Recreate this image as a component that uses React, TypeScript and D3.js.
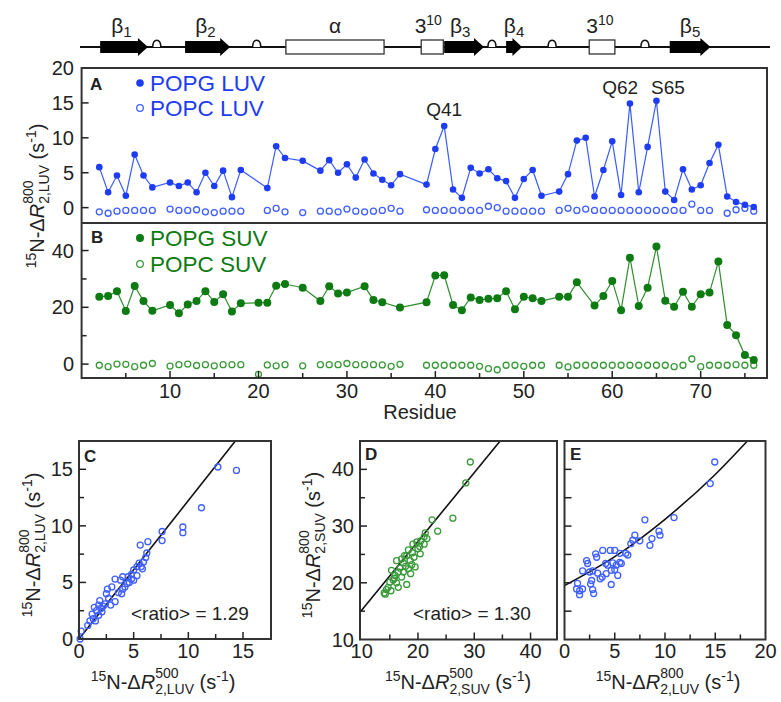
import React from "react";
import * as d3 from "d3";

const FONT = "'Liberation Sans', Arial, Helvetica, sans-serif";
const BLUE = "#1d3cf4";
const BLUE_LINE = "#3a5cff";
const BLUE_OPEN = "#3f5fff";
const GREEN = "#0d7a12";
const GREEN_LINE = "#2f8f2f";
const GREEN_OPEN = "#3a9a3a";
const INK = "#222";

// panel A : residue, 15N-dR2 (LUV, 800 MHz)
const popgLuv: [number, number][] = [
  [2, 5.8], [3, 2.2], [4, 4.6], [5, 1.7], [6, 7.6], [7, 4.6], [8, 2.9], [10, 3.6], [11, 3.1],
  [12, 3.6], [13, 2.2], [14, 5.0], [15, 3.1], [16, 5.3], [17, 1.5], [18, 5.4], [21, 2.8], [22, 8.8],
  [23, 7.1], [25, 6.7], [27, 5.3], [28, 6.8], [29, 5.0], [30, 6.2], [31, 4.3], [32, 6.9], [33, 4.9],
  [34, 4.0], [35, 3.2], [36, 4.8], [39, 3.3], [40, 8.4], [41, 11.7], [42, 2.6], [43, 1.4], [44, 5.7],
  [45, 4.9], [46, 5.5], [47, 4.2], [48, 3.8], [49, 1.4], [50, 4.1], [51, 5.4], [52, 1.7], [54, 2.3],
  [55, 4.8], [56, 9.6], [57, 10.0], [58, 1.6], [59, 5.4], [60, 9.5], [61, 1.8], [62, 14.9], [63, 2.2],
  [64, 8.7], [65, 15.3], [66, 2.3], [67, 1.1], [68, 5.5], [69, 2.6], [70, 3.2], [71, 6.4], [72, 9.0],
  [73, 1.6], [74, 0.8], [75, 0.4], [76, 0.1],
];
const popcLuv: [number, number][] = [
  [2, -0.6], [3, -0.8], [4, -0.5], [5, -0.4], [6, -0.4], [7, -0.4], [8, -0.4], [10, -0.2], [11, -0.4],
  [12, -0.4], [13, -0.3], [14, -0.6], [15, -0.7], [16, -0.5], [17, -0.5], [18, -0.5], [21, -0.4],
  [22, -0.1], [23, -0.6], [25, -0.7], [27, -0.5], [28, -0.5], [29, -0.6], [30, -0.2], [31, -0.5],
  [32, -0.6], [33, -0.5], [34, -0.4], [35, -0.1], [36, -0.5], [39, -0.3], [40, -0.4], [41, -0.4],
  [42, -0.4], [43, -0.4], [44, -0.4], [45, -0.4], [46, 0.2], [47, 0.0], [48, -0.5], [49, -0.5],
  [50, -0.5], [51, -0.5], [52, -0.5], [54, -0.4], [55, -0.1], [56, -0.4], [57, -0.2], [58, -0.4],
  [59, -0.4], [60, -0.4], [61, -0.4], [62, -0.4], [63, -0.4], [64, -0.4], [65, -0.4], [66, -0.4],
  [67, -0.4], [68, -0.4], [69, 0.5], [70, -0.4], [71, -0.4], [73, -0.8], [74, -0.3], [75, -0.1],
  [76, -0.5],
];

// panel B : residue, 15N-dR2 (SUV, 800 MHz)
const popgSuv: [number, number][] = [
  [2, 23.7], [3, 24.0], [4, 25.7], [5, 18.7], [6, 27.5], [7, 22.2], [8, 18.8], [10, 20.8], [11, 17.9],
  [12, 21.0], [13, 22.2], [14, 25.7], [15, 21.9], [16, 24.6], [17, 18.5], [18, 21.4], [20, 21.6],
  [21, 21.6], [22, 27.6], [23, 28.2], [25, 26.9], [27, 22.2], [28, 27.4], [29, 24.9], [30, 25.2],
  [32, 27.4], [33, 22.6], [34, 21.8], [36, 19.9], [39, 21.8], [40, 31.2], [41, 31.3], [42, 20.8],
  [43, 19.0], [44, 23.5], [45, 22.6], [46, 23.0], [47, 23.2], [48, 25.7], [49, 19.3], [50, 23.7],
  [51, 23.2], [52, 22.2], [54, 23.7], [55, 23.7], [56, 28.8], [58, 20.6], [59, 24.0], [60, 29.3],
  [61, 19.0], [62, 37.5], [63, 20.5], [64, 26.9], [65, 41.4], [66, 22.3], [67, 20.2], [68, 25.5],
  [69, 20.2], [70, 24.6], [71, 25.2], [72, 36.1], [73, 13.8], [74, 10.2], [75, 3.2], [76, 1.4],
];
const popcSuv: [number, number][] = [
  [2, -0.4], [3, -0.9], [4, 0.0], [5, -0.1], [6, -0.9], [7, -0.4], [8, 0.2], [10, -0.7], [11, -0.2],
  [12, 0.0], [13, -0.5], [14, -0.2], [15, -0.6], [16, -0.2], [17, -0.2], [18, -0.2], [20, -3.6],
  [21, -0.3], [22, -0.6], [23, -0.2], [25, -0.6], [27, -0.2], [28, -0.2], [29, -0.2], [30, 0.2],
  [31, -0.2], [32, -0.2], [33, -0.2], [34, -0.3], [35, -0.8], [36, -0.1], [39, -0.4], [40, -0.4],
  [41, -0.4], [42, -0.4], [43, -0.4], [44, -0.4], [45, -0.8], [46, -1.6], [47, -2.0], [48, -0.4],
  [49, -0.4], [50, -0.8], [51, -0.4], [52, -0.4], [54, -0.4], [55, -1.0], [56, -0.4], [57, -0.4],
  [58, -0.4], [59, -0.4], [60, -0.4], [61, -0.4], [62, -0.4], [63, -0.4], [64, -0.4], [65, -0.4],
  [66, -0.4], [67, -0.9], [68, -0.4], [69, 1.8], [70, -0.9], [71, -0.4], [72, -0.4], [73, -0.4],
  [74, -0.2], [75, -0.4], [76, -0.4],
];

// panel C : dR2 LUV 500 vs 800
const luv500v800: [number, number][] = [
  [12.7, 15.2], [14.4, 14.9], [11.2, 11.6], [9.5, 9.9], [9.5, 9.4], [7.6, 9.5], [7.6, 8.7], [6.3, 8.6],
  [5.6, 8.3], [6.2, 7.6], [6.1, 7.2], [5.9, 6.8], [5.5, 6.7], [5.7, 6.4], [5.3, 6.4], [5.0, 6.1],
  [4.8, 5.7], [4.5, 5.5], [5.3, 5.6], [4.0, 5.5], [3.3, 5.3], [3.8, 5.2], [4.4, 4.9], [5.0, 5.2],
  [4.0, 4.4], [3.9, 4.0], [3.0, 4.6], [3.3, 3.3], [2.6, 4.4], [2.5, 4.0], [2.7, 3.6], [1.9, 3.4],
  [2.4, 3.1], [1.8, 3.0], [1.4, 2.8], [1.6, 2.5], [2.1, 2.4], [1.2, 2.2], [1.8, 2.1], [1.0, 1.6],
  [1.5, 1.6], [0.8, 1.2], [0.2, 0.7], [0.1, 0.0], [4.6, 5.0], [4.2, 4.6], [2.9, 3.0], [2.2, 2.9],
  [4.8, 5.3], [5.8, 6.2], [3.6, 4.1], [1.3, 1.8], [2.0, 2.7],
];
// panel D : dR2 SUV 500 vs 800
const suv500v800: [number, number][] = [
  [29.3, 41.3], [28.5, 37.6], [26.2, 31.4], [22.5, 31.1], [23.5, 29.1], [21.3, 28.8], [21.1, 28.1],
  [20.5, 27.4], [19.8, 27.2], [19.1, 26.8], [20.3, 26.4], [21.1, 26.8], [20.4, 25.1], [18.3, 25.8],
  [18.0, 24.8], [19.3, 24.5], [18.6, 23.9], [17.1, 24.2], [16.2, 23.9], [17.4, 23.5], [18.9, 23.2],
  [19.5, 22.8], [18.3, 22.5], [15.3, 22.2], [16.5, 21.9], [17.4, 21.9], [15.9, 21.3], [17.1, 21.0],
  [18.0, 19.7], [15.6, 20.5], [15.0, 20.1], [16.2, 20.0], [14.7, 19.2], [14.4, 18.8], [14.0, 18.2],
  [15.2, 18.6], [16.5, 19.2], [17.8, 22.9], [19.0, 25.3], [20.0, 26.0], [16.8, 22.6], [18.7, 21.6],
  [14.2, 18.0], [17.6, 24.8], [21.6, 27.8], [15.8, 20.8],
];
// panel E : dR2 LUV 800 vs SUV 800
const luvVsSuv: [number, number][] = [
  [14.95, 41.3], [14.5, 37.5], [10.9, 31.5], [8.0, 31.1], [9.4, 29.1], [9.5, 28.4], [8.7, 27.8],
  [8.5, 26.6], [7.0, 28.4], [6.8, 27.5], [7.5, 27.4], [6.6, 26.9], [6.3, 24.9], [6.1, 25.2], [5.5, 25.2],
  [5.0, 25.7], [4.55, 25.7], [3.8, 25.7], [3.1, 25.1], [3.2, 24.5], [5.5, 23.6], [5.65, 23.4],
  [5.15, 23.1], [4.8, 23.5], [4.3, 23.1], [4.1, 23.4], [2.2, 23.9], [2.3, 23.4], [1.8, 22.1],
  [2.5, 21.9], [2.8, 22.1], [3.3, 21.7], [4.15, 21.6], [4.65, 22.2], [5.0, 22.3], [5.3, 21.3],
  [3.55, 20.7], [2.7, 20.4], [2.6, 19.8], [1.3, 19.9], [1.8, 18.9], [1.5, 18.6], [1.2, 18.9],
  [1.5, 17.9], [2.8, 18.8], [2.9, 18.1], [4.65, 19.7], [3.75, 21.0],
];
const fitC: [number, number][] = [[0, 0], [14.3, 17.5]];
const fitD: [number, number][] = [[9.7, 14.8], [34.6, 45]];
const fitE: [number, number][] = [[0, 19.5], [5, 24.6], [10, 31.2], [15, 39.1], [18.2, 45]];

// secondary structure (residue ranges)
const ssKind = ["b", "b", "a", "t", "b", "b", "t", "b"];
const ssStart = [2.1, 11.7, 23.1, 38.4, 41.0, 48.0, 57.4, 66.5];
const ssEnd = [7.5, 16.8, 34.2, 40.9, 45.5, 49.8, 60.3, 71.1];
const ssName = ["β", "β", "α", "3", "β", "β", "3", "β"];
const ssSub = ["1", "2", "", "", "3", "4", "", "5"];
const ssSup = ["", "", "", "10", "", "", "10", ""];
const ssLabelRes = [4.5, 14.0, 28.65, 39.2, 42.8, 48.9, 58.6, 68.8];
const turnRes = [8.5, 19.8, 46.4, 53.2, 63.7];

// peak annotations: text, residue of the label centre, value of the label baseline
const peakLabels = ["Q41", "Q62", "S65"];
const peakLabelRes = [41, 60.9, 66.3];
const peakLabelVal = [13.1, 16.3, 16.3];

function DeltaLabel({ x, y, rot, sub, sup }: { x: number; y: number; rot: boolean; sub: string; sup: string }) {
  const subW = sub === "2,SUV" ? 43.4 * (14 / 15) : 41.7 * (14 / 15);
  const supW = 23.4;
  return (
    <text
      transform={`translate(${x},${y})${rot ? " rotate(-90)" : ""}`}
      textAnchor="middle"
      fontSize={20}
      fontFamily={FONT}
      fill={INK}
    >
      <tspan fontSize={14} dy={-8}>15</tspan>
      <tspan dy={8}>N-Δ</tspan>
      <tspan fontStyle="italic">R</tspan>
      <tspan fontSize={14} dy={5}>{sub}</tspan>
      <tspan fontSize={14} dx={-subW} dy={-16}>{sup}</tspan>
      <tspan dx={subW - supW} dy={11}>{"\u00A0(s"}</tspan>
      <tspan fontSize={14} dy={-8}>-1</tspan>
      <tspan dy={8}>)</tspan>
    </text>
  );
}

export default function App() {
  const xRes = d3.scaleLinear().domain([0, 77.5]).range([81.6, 767]);
  const yA = d3.scaleLinear().domain([-2.2, 20]).range([223, 68]);
  const yB = d3.scaleLinear().domain([-4.9, 49.7]).range([378, 223]);

  const xC = d3.scaleLinear().domain([0, 17.56]).range([79, 271]);
  const yC = d3.scaleLinear().domain([0, 17.5]).range([639, 441]);
  const xD = d3.scaleLinear().domain([9.7, 44.7]).range([360, 557]);
  const yD = d3.scaleLinear().domain([10, 45]).range([639.5, 441]);
  const xE = d3.scaleLinear().domain([0, 20]).range([564.5, 765.5]);
  const yE = d3.scaleLinear().domain([10, 45]).range([639.5, 441]);

  const lineA = d3.line<[number, number]>().x((d) => xRes(d[0])).y((d) => yA(d[1]));
  const lineB = d3.line<[number, number]>().x((d) => xRes(d[0])).y((d) => yB(d[1]));

  const ssY = 47;
  const tickFont = { fontFamily: FONT, fontSize: 20, fill: INK };

  const xTicks = d3.range(5, 76, 5);

  const scatter = (
    data: [number, number][],
    xs: d3.ScaleLinear<number, number>,
    ys: d3.ScaleLinear<number, number>,
    color: string
  ) =>
    data.map((d, i) => (
      <circle key={i} cx={xs(d[0])} cy={ys(d[1])} r={3} fill="none" stroke={color} strokeWidth={1.3} />
    ));

  const xTickMarks = (
    xs: d3.ScaleLinear<number, number>,
    vals: number[],
    majors: number[],
    yBase: number
  ) =>
    vals.map((v) => (
      <line key={v} x1={xs(v)} x2={xs(v)} y1={yBase} y2={yBase - (majors.includes(v) ? 7 : 5)} stroke={INK} strokeWidth={1.5} />
    ));
  const yTickMarks = (
    ys: d3.ScaleLinear<number, number>,
    vals: number[],
    majors: number[],
    xBase: number
  ) =>
    vals.map((v) => (
      <line key={v} x1={xBase} x2={xBase + (majors.includes(v) ? 7 : 5)} y1={ys(v)} y2={ys(v)} stroke={INK} strokeWidth={1.5} />
    ));

  const fitLine = d3.line<[number, number]>();
  const fitCurveE = d3
    .line<[number, number]>()
    .x((d) => xE(d[0]))
    .y((d) => yE(d[1]))
    .curve(d3.curveMonotoneX);

  return (
    <svg
      width={781}
      height={702}
      style={{ position: "absolute", left: 0, top: 0, background: "#fff" }}
      fontFamily={FONT}
    >
      <rect width={781} height={702} fill="#fff" />

      {/* secondary structure */}
      <line x1={80} x2={770} y1={ssY} y2={ssY} stroke="#111" strokeWidth={2} />
      {turnRes.map((r, i) => {
        const cx = xRes(r);
        return (
          <path
            key={i}
            d={`M${cx - 4},${ssY} C${cx - 4},${ssY - 9} ${cx + 4},${ssY - 9} ${cx + 4},${ssY}`}
            fill="#fff"
            stroke="#111"
            strokeWidth={1.5}
          />
        );
      })}
      {ssKind.map((k, i) => {
        const x0 = xRes(ssStart[i]);
        const x1 = xRes(ssEnd[i]);
        if (k === "b") {
          const head = Math.min(10, (x1 - x0) * 0.6);
          const xb = x1 - head;
          return (
            <path
              key={i}
              d={`M${x0},${ssY - 6} L${xb},${ssY - 6} L${xb},${ssY - 9} L${x1},${ssY} L${xb},${ssY + 9} L${xb},${ssY + 6} L${x0},${ssY + 6} Z`}
              fill="#000"
            />
          );
        }
        return <rect key={i} x={x0} y={ssY - 7} width={x1 - x0} height={14} fill="#fff" stroke="#333" strokeWidth={1.3} />;
      })}
      {ssName.map((n, i) => (
        <text key={i} x={xRes(ssLabelRes[i])} y={33} textAnchor="middle" fontSize={21} fill={INK}>
          {n}
          {ssSub[i] && (
            <tspan fontSize={15} dy={4}>
              {ssSub[i]}
            </tspan>
          )}
          {ssSup[i] && (
            <tspan fontSize={14} dy={-8}>
              {ssSup[i]}
            </tspan>
          )}
        </text>
      ))}

      {/* panels A & B */}
      <path d={lineA(popgLuv) || ""} fill="none" stroke={BLUE_LINE} strokeWidth={1.2} />
      {popcLuv.map((d, i) => (
        <circle key={i} cx={xRes(d[0])} cy={yA(d[1])} r={3} fill="none" stroke={BLUE_OPEN} strokeWidth={1.3} />
      ))}
      {popgLuv.map((d, i) => (
        <circle key={i} cx={xRes(d[0])} cy={yA(d[1])} r={3.3} fill={BLUE} />
      ))}
      {peakLabels.map((t, i) => (
        <text key={t} x={xRes(peakLabelRes[i])} y={yA(peakLabelVal[i])} textAnchor="middle" fontSize={19} fill={INK}>
          {t}
        </text>
      ))}

      <path d={lineB(popgSuv) || ""} fill="none" stroke={GREEN_LINE} strokeWidth={1.2} />
      {popcSuv.map((d, i) => (
        <circle key={i} cx={xRes(d[0])} cy={yB(d[1])} r={3} fill="none" stroke={GREEN_OPEN} strokeWidth={1.3} />
      ))}
      {popgSuv.map((d, i) => (
        <circle key={i} cx={xRes(d[0])} cy={yB(d[1])} r={4} fill={GREEN} />
      ))}

      {/* legends */}
      <circle cx={140} cy={83} r={3.8} fill={BLUE} />
      <text x={150} y={91} fontSize={22.5} fill={BLUE}>POPG LUV</text>
      <circle cx={140} cy={108} r={3.3} fill="none" stroke={BLUE_OPEN} strokeWidth={1.3} />
      <text x={150} y={116} fontSize={22.5} fill={BLUE}>POPC LUV</text>
      <circle cx={140} cy={238} r={4} fill={GREEN} />
      <text x={150} y={246} fontSize={22.5} fill={GREEN}>POPG SUV</text>
      <circle cx={140} cy={264} r={3.3} fill="none" stroke={GREEN_OPEN} strokeWidth={1.3} />
      <text x={150} y={272} fontSize={22.5} fill={GREEN}>POPC SUV</text>

      {/* frames */}
      <rect x={81.6} y={68} width={767 - 81.6} height={378 - 68} fill="none" stroke="#333" strokeWidth={2} />
      <line x1={81.6} x2={767} y1={223} y2={223} stroke="#333" strokeWidth={2} />
      {yTickMarks(yA, [0, 5, 10, 15], [0, 5, 10, 15], 81.6)}
      {yTickMarks(yB, [0, 10, 20, 30, 40], [0, 20, 40], 81.6)}
      {xTickMarks(xRes, xTicks, d3.range(10, 71, 10), 378)}
      {[0, 5, 10, 15, 20].map((v) => (
        <text key={v} x={74} y={yA(v)} dy="0.35em" textAnchor="end" {...tickFont}>{v}</text>
      ))}
      {[0, 20, 40].map((v) => (
        <text key={v} x={74} y={yB(v)} dy="0.35em" textAnchor="end" {...tickFont}>{v}</text>
      ))}
      {d3.range(10, 71, 10).map((v) => (
        <text key={v} x={xRes(v)} y={398} textAnchor="middle" {...tickFont}>{v}</text>
      ))}
      <text x={420} y={419} textAnchor="middle" fontSize={20} fill={INK}>Residue</text>
      <text x={90} y={90} fontSize={17} fontWeight="bold" fill={INK}>A</text>
      <text x={91} y={243} fontSize={17} fontWeight="bold" fill={INK}>B</text>
      <DeltaLabel x={44} y={196} rot sub="2,LUV" sup="800" />

      {/* panel C */}
      <path d={fitLine(fitC.map((d) => [xC(d[0]), yC(d[1])] as [number, number])) || ""} stroke="#111" strokeWidth={1.6} fill="none" />
      {scatter(luv500v800, xC, yC, BLUE_OPEN)}
      <rect x={79} y={441} width={271 - 79} height={639 - 441} fill="none" stroke="#333" strokeWidth={2} />
      {xTickMarks(xC, [2.5, 5, 7.5, 10, 12.5, 15], [5, 10, 15], 639)}
      {yTickMarks(yC, [2.5, 5, 7.5, 10, 12.5, 15], [5, 10, 15], 79)}
      {[0, 5, 10, 15].map((v) => (
        <text key={v} x={xC(v)} y={658} textAnchor="middle" {...tickFont}>{v}</text>
      ))}
      {[0, 5, 10, 15].map((v) => (
        <text key={v} x={73} y={yC(v)} dy="0.35em" textAnchor="end" {...tickFont}>{v}</text>
      ))}
      <text x={84} y={462} fontSize={17} fontWeight="bold" fill={INK}>C</text>
      <text x={131} y={620} fontSize={19} fill={INK}>{"<ratio> = 1.29"}</text>
      <DeltaLabel x={40} y={545} rot sub="2,LUV" sup="800" />
      <DeltaLabel x={163} y={689} rot={false} sub="2,LUV" sup="500" />

      {/* panel D */}
      <path d={fitLine(fitD.map((d) => [xD(d[0]), yD(d[1])] as [number, number])) || ""} stroke="#111" strokeWidth={1.6} fill="none" />
      {scatter(suv500v800, xD, yD, GREEN_OPEN)}
      <rect x={360} y={441} width={557 - 360} height={639.5 - 441} fill="none" stroke="#333" strokeWidth={2} />
      {xTickMarks(xD, [15, 20, 25, 30, 35, 40], [20, 30, 40], 639.5)}
      {yTickMarks(yD, [15, 20, 25, 30, 35, 40], [20, 30, 40], 360)}
      {[10, 20, 30, 40].map((v) => (
        <text key={v} x={xD(v)} y={658} textAnchor="middle" {...tickFont}>{v}</text>
      ))}
      {[10, 20, 30, 40].map((v) => (
        <text key={v} x={354} y={yD(v)} dy="0.35em" textAnchor="end" {...tickFont}>{v}</text>
      ))}
      <text x={365} y={460} fontSize={17} fontWeight="bold" fill={INK}>D</text>
      <text x={413} y={620} fontSize={19} fill={INK}>{"<ratio> = 1.30"}</text>
      <DeltaLabel x={320} y={545} rot sub="2,SUV" sup="800" />
      <DeltaLabel x={458} y={689} rot={false} sub="2,SUV" sup="500" />

      {/* panel E */}
      <path d={fitCurveE(fitE) || ""} stroke="#111" strokeWidth={1.6} fill="none" />
      {scatter(luvVsSuv, xE, yE, BLUE_OPEN)}
      <rect x={564.5} y={441} width={765.5 - 564.5} height={639.5 - 441} fill="none" stroke="#333" strokeWidth={2} />
      {xTickMarks(xE, [2.5, 5, 7.5, 10, 12.5, 15, 17.5], [5, 10, 15], 639.5)}
      {yTickMarks(yE, [15, 20, 25, 30, 35, 40], [15, 20, 25, 30, 35, 40], 564.5)}
      {[0, 5, 10, 15, 20].map((v) => (
        <text key={v} x={xE(v)} y={658} textAnchor="middle" {...tickFont}>{v}</text>
      ))}
      <text x={570} y={460} fontSize={17} fontWeight="bold" fill={INK}>E</text>
      <DeltaLabel x={668} y={689} rot={false} sub="2,LUV" sup="800" />
    </svg>
  );
}
